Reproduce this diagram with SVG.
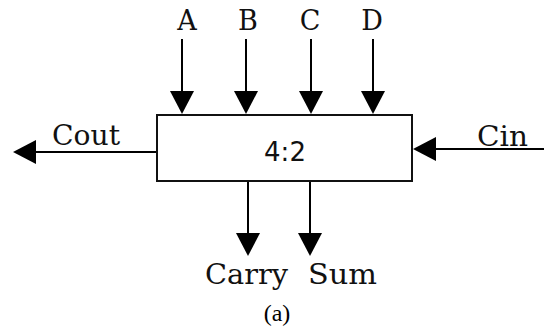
<svg xmlns="http://www.w3.org/2000/svg" width="544" height="327" viewBox="0 0 544 327">
<defs>
<marker id="ah" viewBox="0 0 23 24" refX="21" refY="12" markerWidth="23" markerHeight="24" markerUnits="userSpaceOnUse" orient="auto">
<path d="M0,0 L23,12 L0,24 z" fill="#000"/>
</marker>
<style>
.w{stroke:#000;stroke-width:2;fill:none;marker-end:url(#ah)}
.lbl{font-family:"DejaVu Serif","Liberation Serif",serif;font-size:27px;fill:#111}
.box{fill:#fff;stroke:#111;stroke-width:2}
</style>
</defs>
<rect width="544" height="327" fill="#fff"/>
<g id="connectors">
<line class="w" x1="182" y1="39" x2="182" y2="112"/>
<line class="w" x1="246" y1="39" x2="246" y2="112"/>
<line class="w" x1="311" y1="39" x2="311" y2="112"/>
<line class="w" x1="373" y1="39" x2="373" y2="112"/>
<line class="w" x1="157" y1="152" x2="15" y2="152"/>
<line class="w" x1="544" y1="149" x2="415" y2="149"/>
<line class="w" x1="248" y1="181" x2="248" y2="254"/>
<line class="w" x1="310" y1="181" x2="310" y2="254"/>
</g>
<g id="adder">
<rect class="box" x="157" y="115" width="255" height="66"/>
<text x="285" y="161" text-anchor="middle" font-family="DejaVu Sans, sans-serif" font-size="26" fill="#111">4:2</text>
</g>
<g id="in-A"><text class="lbl" x="187" y="30" text-anchor="middle">A</text></g>
<g id="in-B"><text class="lbl" x="248" y="30" text-anchor="middle">B</text></g>
<g id="in-C"><text class="lbl" x="310" y="30" text-anchor="middle">C</text></g>
<g id="in-D"><text class="lbl" x="372" y="30" text-anchor="middle">D</text></g>
<g id="out-Cout"><text class="lbl" x="52" y="145" textLength="68" lengthAdjust="spacingAndGlyphs">Cout</text></g>
<g id="in-Cin"><text class="lbl" x="477" y="146" textLength="51" lengthAdjust="spacingAndGlyphs">Cin</text></g>
<g id="out-Carry"><text class="lbl" x="205" y="284" textLength="83" lengthAdjust="spacingAndGlyphs">Carry</text></g>
<g id="out-Sum"><text class="lbl" x="308" y="284" textLength="69" lengthAdjust="spacingAndGlyphs">Sum</text></g>
<g id="caption"><text x="277" y="321" text-anchor="middle" font-family="Liberation Serif, serif" font-size="24" fill="#000">(a)</text></g>
</svg>
